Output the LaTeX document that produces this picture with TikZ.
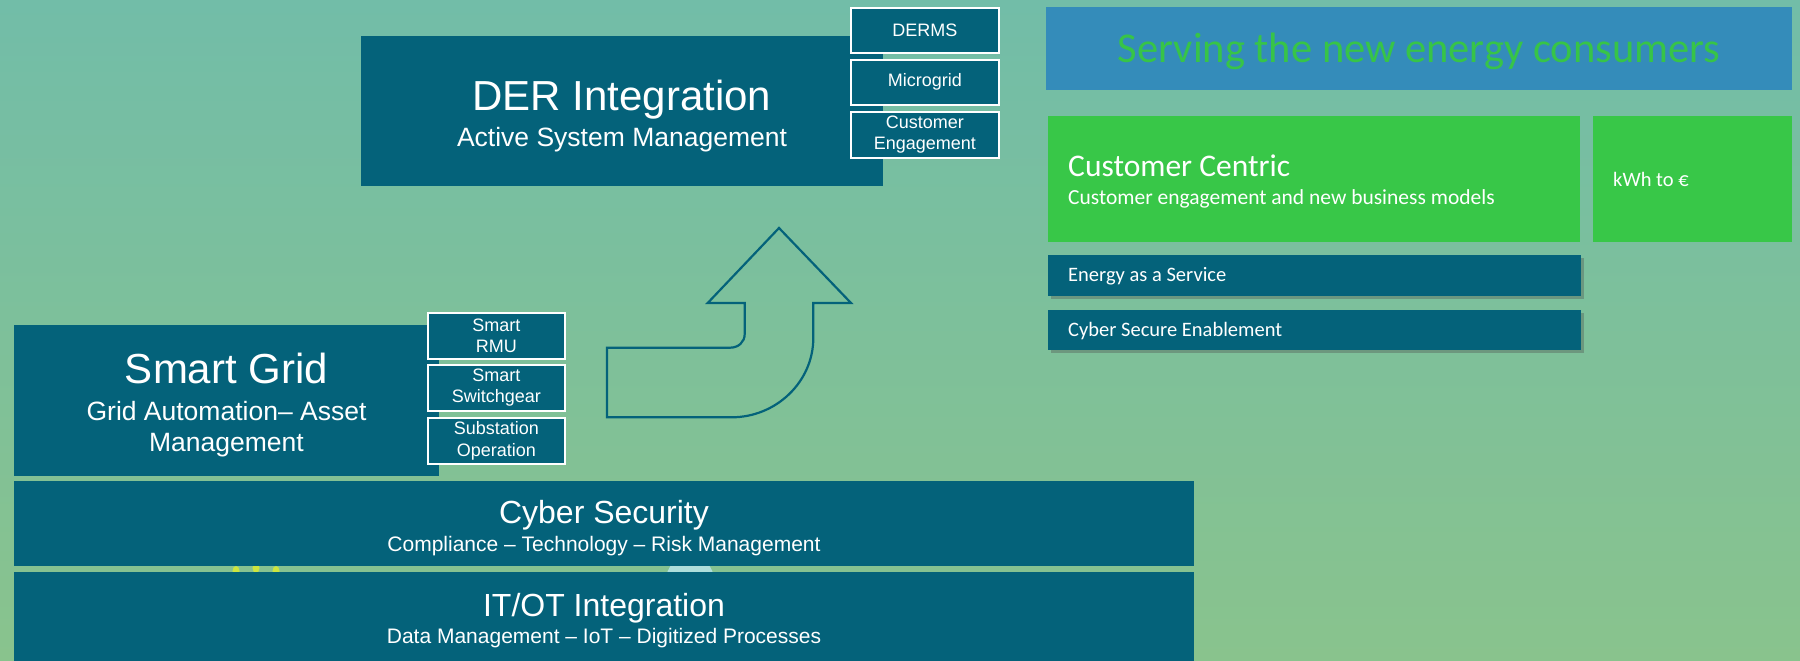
\documentclass[tikz,border=0pt]{standalone}
\usepackage{fontspec}
\newfontfamily\arialf[Ligatures=TeX]{Liberation Sans}
\newfontfamily\calf[Ligatures=TeX]{Carlito}
\usetikzlibrary{shadows}
\definecolor{tealc}{RGB}{4,98,122}
\definecolor{bgtop}{RGB}{114,189,168}
\definecolor{bgbot}{RGB}{137,195,141}
\definecolor{titleblue}{RGB}{52,140,186}
\definecolor{greenc}{RGB}{56,199,72}
\definecolor{greentxt}{RGB}{55,196,72}
\tikzset{
  box/.style={fill=tealc, draw=none, inner sep=0pt, anchor=north west},
  sbox/.style={fill=tealc, draw=white, line width=1.6pt, inner sep=0pt, anchor=north west,
    text=white, align=center, font=\arialf\fontsize{18}{21.5}\selectfont},
  bigt/.style={anchor=base, text=white, inner sep=0pt, font=\arialf\fontsize{42}{48}\selectfont},
  subt/.style={anchor=base, text=white, inner sep=0pt, font=\arialf\fontsize{26.5}{31}\selectfont},
  layt/.style={anchor=base, text=white, inner sep=0pt, font=\arialf\fontsize{32}{38}\selectfont},
  laysub/.style={anchor=base, text=white, inner sep=0pt, font=\arialf\fontsize{21}{25}\selectfont},
  caltxt/.style={anchor=base west, text=white, inner sep=0pt},
  shbox/.style={box, drop shadow={shadow xshift=3pt, shadow yshift=-3pt, opacity=0.35, fill=black!70}},
}
\begin{document}
\begin{tikzpicture}[x=1pt,y=-1pt]
\useasboundingbox (0,0) rectangle (1800,661);
\shade[top color=bgtop, bottom color=bgbot] (0,0) rectangle (1800,661);

% peeking background graphics in the gap
\begin{scope}
\clip (14,566) rectangle (1194,572);
\fill[yellow!75!green!80!white] (236,571) ellipse (3.5 and 5);
\fill[yellow!75!green!80!white] (256,568) ellipse (3.5 and 5);
\fill[yellow!75!green!80!white] (276,571) ellipse (3.5 and 5);
\fill[cyan!25!white, opacity=0.7] (690,580) circle (24);
\end{scope}

% DER Integration
\node[box, minimum width=522pt, minimum height=150pt] (der) at (361,36) {};
\node[bigt] (dert) at (622,110.7) {DER Integration};
\node[subt] (ders) at (622,146.7) {Active System Management};
\node[sbox, minimum width=148pt, minimum height=45pt] (derms) at (850,7) {DERMS};
\node[sbox, minimum width=148pt, minimum height=45pt] (micro) at (850,59) {Microgrid};
\node[sbox, minimum width=148pt, minimum height=46pt] (ceng) at (850,111) {Customer\\Engagement};

% Smart Grid
\node[box, minimum width=425pt, minimum height=151pt] (sg) at (14,325) {};
\node[bigt] (sgt) at (226.5,383.3) {Smart Grid};
\node[subt] (sgs1) at (226.5,420) {Grid Automation– Asset};
\node[subt] (sgs2) at (226.5,451.7) {Management};
\node[sbox, minimum width=137pt, minimum height=46pt] (rmu) at (427,312) {Smart\\RMU};
\node[sbox, minimum width=137pt, minimum height=46pt] (swg) at (427,364) {Smart\\Switchgear};
\node[sbox, minimum width=137pt, minimum height=46pt] (sub) at (427,417) {Substation\\Operation};

% Layers
\node[box, minimum width=1180pt, minimum height=85pt] (cyber) at (14,481) {};
\node[layt] (cybert) at (604,523) {Cyber Security};
\node[laysub] (cybers) at (604,551) {Compliance – Technology – Risk Management};
\node[box, minimum width=1180pt, minimum height=95pt] (itot) at (14,572) {};
\node[layt] (itott) at (604,616) {IT/OT Integration};
\node[laysub] (itots) at (604,643) {Data Management – IoT – Digitized Processes};

% Arrow
\draw[tealc, line width=2.2pt, line join=miter]
  (779,228) -- (851,303) -- (813.3,303) -- (813.3,338)
  .. controls (813.3,382) and (776,417.3) .. (731.7,417.3)
  -- (607,417.3) -- (607,347.7) -- (730,347.7)
  .. controls (738.5,347.7) and (744.7,342) .. (744.7,334)
  -- (744.7,303) -- (707.7,303) -- cycle;

% Right panel
\node[box, fill=titleblue, minimum width=746pt, minimum height=83pt] (title) at (1046,7) {};
\node[anchor=base, inner sep=0pt, text=greentxt, font=\calf\fontsize{42.5}{50}\selectfont] (titlet) at (1419,62.7) {Serving the new energy consumers};
\node[box, fill=greenc, minimum width=532pt, minimum height=126pt] (cc) at (1048,116) {};
\node[caltxt, font=\calf\fontsize{31.5}{37}\selectfont] (cct) at (1068,176.7) {Customer Centric};
\node[caltxt, font=\calf\fontsize{21.5}{26}\selectfont] (ccs) at (1068,204.7) {Customer engagement and new business models};
\node[box, fill=greenc, minimum width=199pt, minimum height=126pt] (kwh) at (1593,116) {};
\node[caltxt, font=\calf\fontsize{20.5}{25}\selectfont] (kwht) at (1613,186) {kWh to €};
\node[shbox, minimum width=533pt, minimum height=41pt] (eaas) at (1048,255) {};
\node[caltxt, font=\calf\fontsize{20.5}{25}\selectfont] (eaast) at (1068,281.7) {Energy as a Service};
\node[shbox, minimum width=533pt, minimum height=40pt] (cse) at (1048,310) {};
\node[caltxt, font=\calf\fontsize{20.5}{25}\selectfont] (cset) at (1068,336.7) {Cyber Secure Enablement};
\end{tikzpicture}
\end{document}
